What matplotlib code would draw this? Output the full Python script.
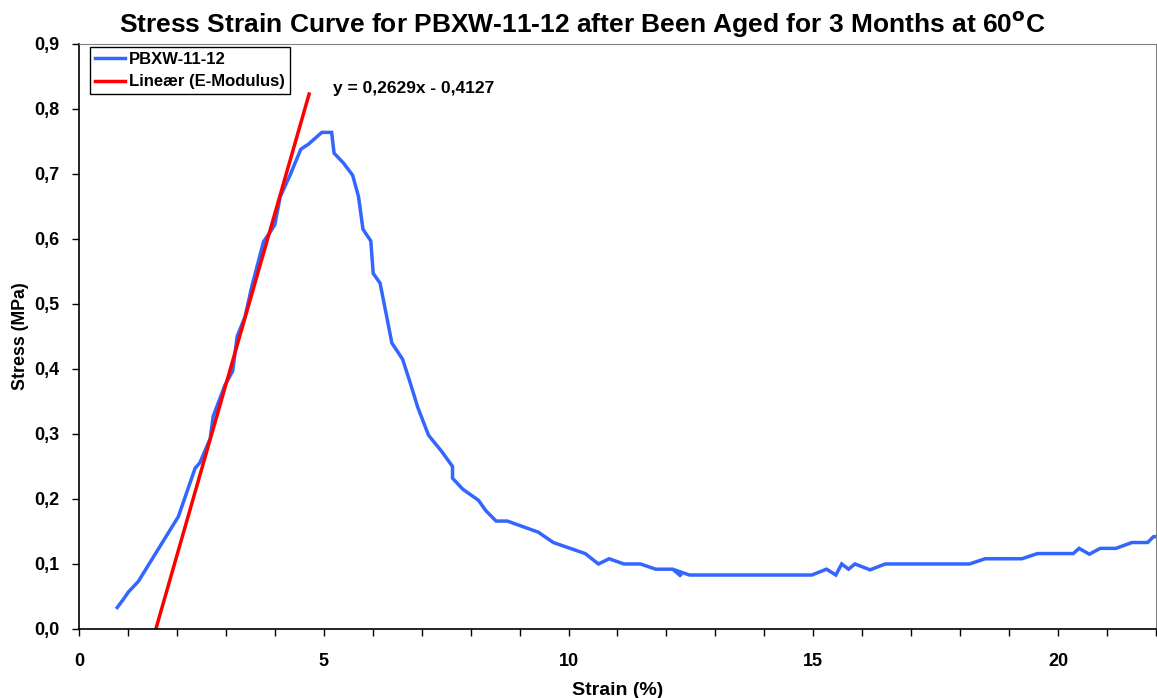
import numpy as np
import matplotlib.pyplot as plt
from matplotlib.ticker import MultipleLocator, FuncFormatter

plt.rcParams['font.family'] = ['Liberation Sans', 'DejaVu Sans']
plt.rcParams['font.weight'] = 'bold'

# Measured curve PBXW-11-12
strain = [0.78, 0.90, 1.01, 1.21, 2.03, 2.37, 2.47, 2.68, 2.74, 2.98, 3.14,
          3.23, 3.39, 3.53, 3.77, 3.89, 4.00, 4.11, 4.31, 4.53, 4.69, 4.96,
          5.16, 5.21, 5.40, 5.59, 5.71, 5.80, 5.96, 6.01, 6.15, 6.30, 6.39,
          6.61, 6.76, 6.92, 7.14, 7.41, 7.63, 7.63, 7.84, 8.16, 8.31, 8.52,
          8.75, 9.38, 9.69, 10.34, 10.61, 10.83, 11.13, 11.47, 11.78, 12.13,
          12.30, 12.24, 12.47, 14.97, 15.27, 15.46, 15.58, 15.72, 15.85,
          16.16, 16.47, 18.19, 18.51, 19.26, 19.58, 20.31, 20.43, 20.64,
          20.86, 21.18, 21.51, 21.83, 21.95, 22.10]
stress = [0.033, 0.045, 0.057, 0.073, 0.173, 0.247, 0.256, 0.293, 0.327,
          0.375, 0.397, 0.450, 0.480, 0.527, 0.596, 0.609, 0.622, 0.665,
          0.698, 0.738, 0.746, 0.764, 0.764, 0.732, 0.717, 0.698, 0.665,
          0.615, 0.597, 0.547, 0.532, 0.475, 0.440, 0.415, 0.380, 0.341,
          0.298, 0.273, 0.250, 0.232, 0.215, 0.198, 0.182, 0.166, 0.166,
          0.149, 0.133, 0.116, 0.100, 0.108, 0.100, 0.100, 0.092, 0.092,
          0.081, 0.089, 0.083, 0.083, 0.092, 0.083, 0.100, 0.092, 0.100,
          0.091, 0.100, 0.100, 0.108, 0.108, 0.116, 0.116, 0.124, 0.115,
          0.124, 0.124, 0.133, 0.133, 0.142, 0.142]

# Linear trendline (E-Modulus)
fit_slope = 0.2629
fit_intercept = -0.4127
fit_x_range = [1.57, 4.70]
fit_label = 'y = 0,2629x - 0,4127'

fig = plt.figure(figsize=(11.57, 6.98), dpi=100)
ax = fig.add_axes([0.0683, 0.0989, 0.9308, 0.8381])

ax.plot(strain, stress, color='#3366FF', lw=2.5, label='PBXW-11-12',
        solid_joinstyle='miter')
fx = np.array(fit_x_range)
ax.plot(fx, fit_slope * fx + fit_intercept, color='#FF0000', lw=2.5,
        label='Lineær (E-Modulus)')

ax.set_xlim(0, 22)
ax.set_ylim(0, 0.9)
ax.xaxis.set_major_locator(MultipleLocator(5))
ax.xaxis.set_minor_locator(MultipleLocator(1))
ax.yaxis.set_major_locator(MultipleLocator(0.1))
ax.yaxis.set_major_formatter(FuncFormatter(lambda v, p: f'{v:.1f}'.replace('.', ',')))
ax.tick_params(which='both', direction='out', labelsize=13, width=1, length=5)
ax.tick_params(axis='y', pad=9)
ax.tick_params(axis='x', pad=12)
for lbl in ax.get_xticklabels() + ax.get_yticklabels():
    lbl.set_fontweight('bold')

for s in ['top', 'right']:
    ax.spines[s].set_color('#808080')
for s in ['left', 'bottom']:
    ax.spines[s].set_color('black')
    ax.spines[s].set_linewidth(1.2)

ax.set_xlabel('Strain (%)', fontsize=14, fontweight='bold', labelpad=9)
ax.set_ylabel('Stress (MPa)', fontsize=12.8, fontweight='bold', labelpad=4)
fig.text(582 / 1157, 1 - 24 / 698,
         'Stress Strain Curve for PBXW-11-12 after Been Aged for 3 Months at 60$^{\\mathbf{o}}$C',
         fontsize=19, fontweight='bold', ha='center', va='center')

ax.text(5.19, 0.832, fit_label, fontsize=12.5, fontweight='bold', va='center')

leg = ax.legend(loc='upper left', bbox_to_anchor=(0.01, 0.995), fontsize=12,
                frameon=True, fancybox=False, framealpha=1, borderpad=0.3,
                handlelength=1.8, handletextpad=0.25, labelspacing=0.45,
                borderaxespad=0)
leg.get_frame().set_edgecolor('black')
leg.get_frame().set_linewidth(1)
for t in leg.get_texts():
    t.set_fontweight('bold')

fig.savefig('out.png', dpi=100)
